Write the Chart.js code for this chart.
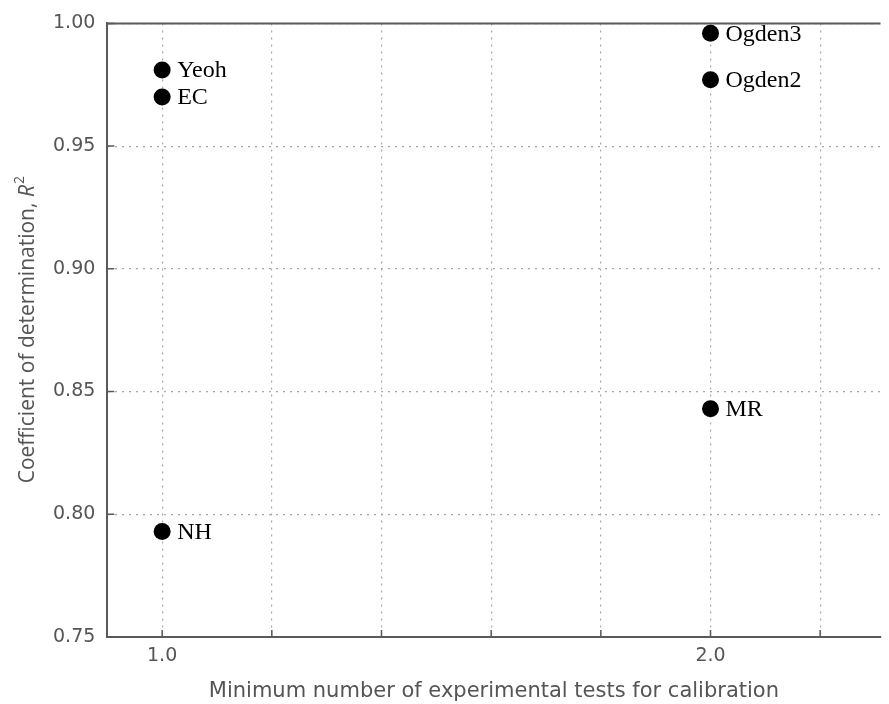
<!DOCTYPE html>
<html>
<head>
<meta charset="utf-8">
<script src="https://cdn.jsdelivr.net/npm/chart.js@4"></script>
<style>
  html, body { margin: 0; padding: 0; background: #fff; }
</style>
</head>
<body>
<canvas id="chart" width="889" height="704"></canvas>
<script>
// hyperelastic models: min. number of tests vs R^2
const models = ['Yeoh', 'EC', 'NH', 'Ogden3', 'Ogden2', 'MR'];
const minTests = [1, 1, 1, 2, 2, 2];
const rSquared = [0.981, 0.970, 0.793, 0.996, 0.977, 0.843];
const xTicks = [1.0, 1.2, 1.4, 1.6, 1.8, 2.0, 2.2];
const xLabelled = [1.0, 2.0];

const axisColor = '#5a5a5a';
const gridColor = '#a8a8a8';
const textColor = '#555';
const tickFont = { family: 'DejaVu Sans', size: 19 };

// box line on top + short inward tick marks
const frame = {
  id: 'frame',
  afterDraw(chart) {
    const { ctx, chartArea: a, scales } = chart;
    ctx.save();
    ctx.strokeStyle = axisColor;
    ctx.lineWidth = 2;
    ctx.beginPath();
    ctx.moveTo(a.left - 1, a.top);
    ctx.lineTo(a.right, a.top);
    ctx.stroke();
    ctx.lineWidth = 1.5;
    ctx.beginPath();
    scales.x.ticks.forEach(t => {
      const px = scales.x.getPixelForValue(t.value);
      ctx.moveTo(px, a.bottom);
      ctx.lineTo(px, a.bottom - 7);
    });
    scales.y.ticks.forEach(t => {
      const py = scales.y.getPixelForValue(t.value);
      ctx.moveTo(a.left, py);
      ctx.lineTo(a.left + 7, py);
    });
    ctx.stroke();
    ctx.restore();
  }
};

// y title with italic R and superscript 2
const yTitle = {
  id: 'yTitle',
  afterDraw(chart) {
    const { ctx, chartArea: a } = chart;
    const main = 'Coefficient of determination, ';
    ctx.save();
    ctx.translate(28, (a.top + a.bottom) / 2);
    ctx.rotate(-Math.PI / 2);
    ctx.fillStyle = textColor;
    ctx.textBaseline = 'middle';
    ctx.textAlign = 'left';
    ctx.font = '21px "Open Sans"';
    const w1 = ctx.measureText(main).width;
    ctx.font = 'italic 21px "Open Sans"';
    const w2 = ctx.measureText('R').width;
    ctx.font = '14px "Open Sans"';
    const w3 = ctx.measureText('2').width;
    let x = -(w1 + w2 + w3) / 2;
    ctx.font = '21px "Open Sans"';
    ctx.fillText(main, x, 0);
    x += w1;
    ctx.font = 'italic 21px "Open Sans"';
    ctx.fillText('R', x, 0);
    x += w2 + 1;
    ctx.font = '14px "Open Sans"';
    ctx.fillText('2', x, -8);
    ctx.restore();
  }
};

const pointNames = {
  id: 'pointNames',
  afterDatasetsDraw(chart) {
    const { ctx } = chart;
    const meta = chart.getDatasetMeta(0);
    ctx.save();
    ctx.fillStyle = '#000';
    ctx.font = '24px "Liberation Serif"';
    ctx.textAlign = 'left';
    ctx.textBaseline = 'middle';
    meta.data.forEach((el, i) => {
      ctx.fillText(models[i], el.x + 15, el.y + 1);
    });
    ctx.restore();
  }
};

new Chart(document.getElementById('chart'), {
  type: 'scatter',
  data: {
    datasets: [{
      label: 'R2',
      data: minTests.map((x, i) => ({ x: x, y: rSquared[i] })),
      pointRadius: 8.5,
      pointHoverRadius: 8.5,
      pointBackgroundColor: '#000',
      pointBorderColor: '#000',
      pointBorderWidth: 0
    }]
  },
  options: {
    responsive: false,
    animation: false,
    layout: { padding: { top: 14, right: 0, left: 41, bottom: 0 } },
    plugins: {
      legend: { display: false },
      tooltip: { enabled: false }
    },
    scales: {
      x: {
        type: 'linear',
        min: 0.9,
        max: 2.31,
        afterBuildTicks: scale => {
          scale.ticks = xTicks.map(v => ({ value: v }));
        },
        ticks: {
          autoSkip: false,
          maxRotation: 0,
          color: textColor,
          font: tickFont,
          padding: 7.5,
          callback: v => xLabelled.includes(Math.round(v * 10) / 10) ? v.toFixed(1) : ''
        },
        grid: { color: gridColor, lineWidth: 1.2, drawTicks: false },
        border: { color: axisColor, width: 2, dash: [2, 5] },
        title: {
          display: true,
          text: 'Minimum number of experimental tests for calibration',
          color: textColor,
          font: { family: 'DejaVu Sans', size: 21 },
          padding: { top: 4, bottom: 0 }
        }
      },
      y: {
        min: 0.75,
        max: 1.0,
        ticks: {
          stepSize: 0.05,
          color: textColor,
          font: tickFont,
          padding: 12,
          callback: v => v.toFixed(2)
        },
        grid: { color: gridColor, lineWidth: 1.2, drawTicks: false },
        border: { color: axisColor, width: 2, dash: [2, 5] },
        title: { display: false }
      }
    }
  },
  plugins: [frame, yTitle, pointNames]
});
</script>
</body>
</html>
